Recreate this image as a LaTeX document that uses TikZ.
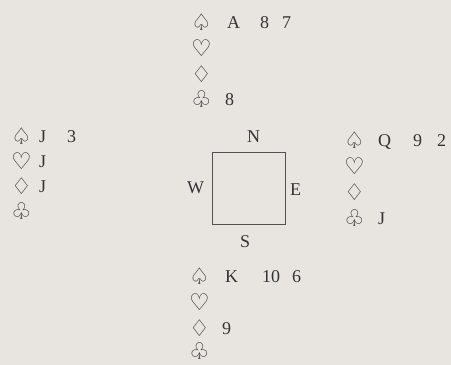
\documentclass[tikz,border=0pt]{standalone}
\usepackage{fontspec}
\setmainfont{Liberation Serif}
\newfontfamily\suitfont{DejaVu Sans}
\definecolor{bg}{HTML}{E8E5E0}
\definecolor{ink}{HTML}{333333}
\begin{document}
\begin{tikzpicture}[x=1pt,y=-1pt,
  card/.style={anchor=base west,inner sep=0pt,text=ink,font=\fontsize{18}{20}\selectfont},
  suit/.style={anchor=base west,inner sep=0pt,text=ink,font=\suitfont\fontsize{23}{26}\selectfont},
  compass/.style={anchor=base west,inner sep=0pt,text=ink,font=\fontsize{18}{20}\selectfont},
  table/.style={draw=ink!85,line width=1pt,minimum width=73pt,minimum height=72pt,inner sep=0pt}]
\fill[bg] (0,0) rectangle (451,365);
\useasboundingbox (0,0) rectangle (451,365);
% North
\node[suit] (ns) at (191,30) {♤};
\node[suit] (nh) at (191,56) {♡};
\node[suit] (nd) at (191,82) {♢};
\node[suit] (nc) at (191,107) {♧};
\node[card] (nsA) at (227,28) {A};
\node[card] (ns8) at (260,28) {8};
\node[card] (ns7) at (282,28) {7};
\node[card] (nc8) at (225,105) {8};
% West
\node[suit] (ws) at (11,144) {♤};
\node[suit] (wh) at (11,169) {♡};
\node[suit] (wd) at (11,194) {♢};
\node[suit] (wc) at (11,219) {♧};
\node[card] (wsJ) at (39,142) {J};
\node[card] (ws3) at (67,142) {3};
\node[card] (whJ) at (39,167) {J};
\node[card] (wdJ) at (39,192) {J};
% East
\node[suit] (es) at (344,148) {♤};
\node[suit] (eh) at (344,174) {♡};
\node[suit] (ed) at (344,200) {♢};
\node[suit] (ec) at (344,226) {♧};
\node[card] (esQ) at (378,146) {Q};
\node[card] (es9) at (413,146) {9};
\node[card] (es2) at (437,146) {2};
\node[card] (ecJ) at (378,224) {J};
% South
\node[suit] (ss) at (189,284) {♤};
\node[suit] (sh) at (189,310) {♡};
\node[suit] (sd) at (189,336) {♢};
\node[suit] (sc) at (189,359) {♧};
\node[card] (ssK) at (225,282) {K};
\node[card] (ss10) at (262,282) {10};
\node[card] (ss6) at (292,282) {6};
\node[card] (sd9) at (222,334) {9};
% Table
\node[table] (tbl) at (248.5,188) {};
\node[compass] (N) at (247,142) {N};
\node[compass] (W) at (187,193) {W};
\node[compass] (E) at (290,195) {E};
\node[compass] (S) at (240,247) {S};
\end{tikzpicture}
\end{document}
